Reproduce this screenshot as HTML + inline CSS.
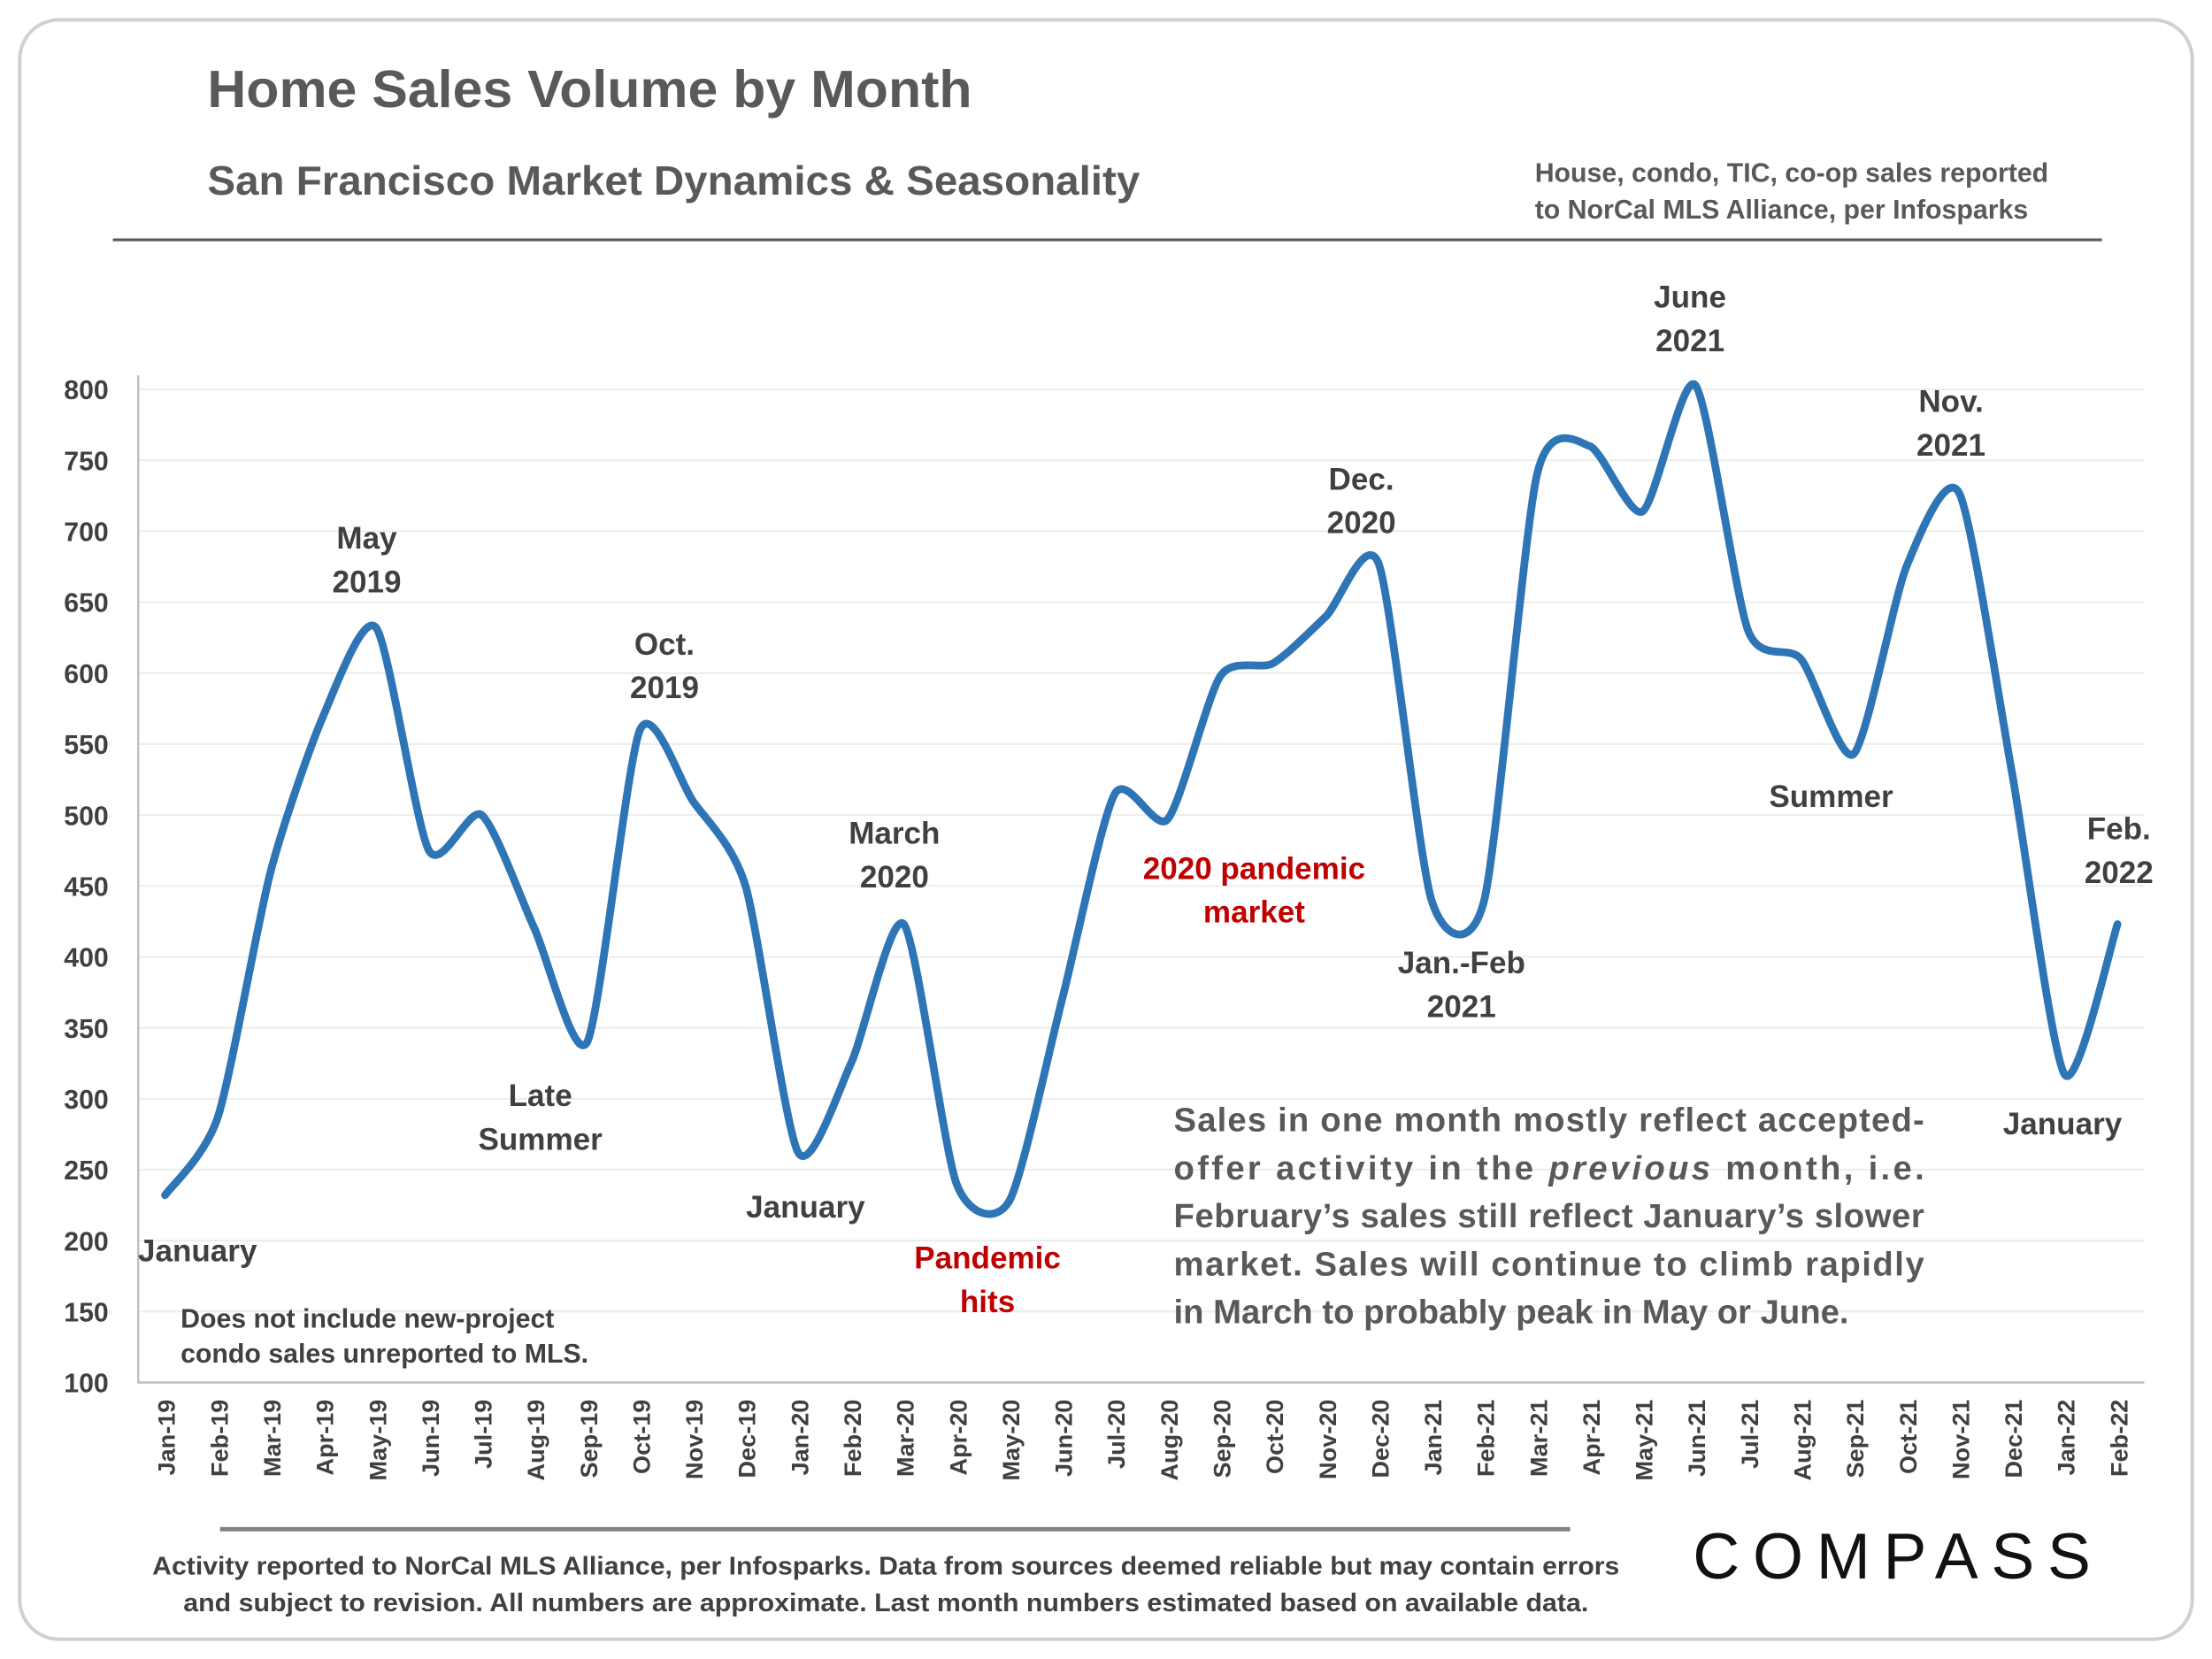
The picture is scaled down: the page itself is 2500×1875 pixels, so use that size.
<!DOCTYPE html>
<html><head><meta charset="utf-8"><style>
html,body{margin:0;padding:0;background:#fff}
svg{display:block}
text{font-family:"Liberation Sans",sans-serif;font-weight:bold}
</style></head><body>
<svg id="chart" width="2500" height="1875" viewBox="0 0 1568 1176" preserveAspectRatio="none" xmlns="http://www.w3.org/2000/svg">
<rect x="14" y="14" width="1540" height="1148" rx="28" fill="#fff" stroke="#d0d0d0" stroke-width="2.5"/>
<text x="147" y="76" font-size="37" fill="#595959" textLength="542" lengthAdjust="spacingAndGlyphs">Home Sales Volume by Month</text>
<text x="147" y="138" font-size="29" fill="#595959" textLength="661" lengthAdjust="spacingAndGlyphs">San Francisco Market Dynamics &amp; Seasonality</text>
<text font-size="19" fill="#595959"><tspan x="1088" y="129">House, condo, TIC, co-op sales reported</tspan><tspan x="1088" y="155">to NorCal MLS Alliance, per Infosparks</tspan></text>
<line x1="80" y1="170" x2="1490" y2="170" stroke="#595959" stroke-width="2"/>
<g id="grid"></g>
<g id="yticks"></g>
<g id="xticks"></g>
<path id="series" fill="none" stroke="#2e75b6" stroke-width="5.5" stroke-linejoin="round" stroke-linecap="round"/>
<g font-size="22" fill="#404040" text-anchor="middle">
<text x="140" y="894">January</text>
<text x="260" y="389">May</text><text x="260" y="420">2019</text>
<text x="383" y="784">Late</text><text x="383" y="815">Summer</text>
<text x="471" y="464">Oct.</text><text x="471" y="495">2019</text>
<text x="571" y="863">January</text>
<text x="634" y="598">March</text><text x="634" y="629">2020</text>
<text x="700" y="899" fill="#c00000">Pandemic</text><text x="700" y="930" fill="#c00000">hits</text>
<text x="889" y="623" fill="#c00000">2020 pandemic</text><text x="889" y="654" fill="#c00000">market</text>
<text x="965" y="347">Dec.</text><text x="965" y="378">2020</text>
<text x="1036" y="690">Jan.-Feb</text><text x="1036" y="721">2021</text>
<text x="1198" y="218">June</text><text x="1198" y="249">2021</text>
<text x="1298" y="572">Summer</text>
<text x="1383" y="292">Nov.</text><text x="1383" y="323">2021</text>
<text x="1462" y="804">January</text>
<text x="1502" y="595">Feb.</text><text x="1502" y="626">2022</text>
</g>
<text font-size="19" fill="#404040"><tspan x="128" y="941">Does not include new-project</tspan><tspan x="128" y="966">condo sales unreported to MLS.</tspan></text>
<text font-size="24" fill="#595959"><tspan x="832" y="802" textLength="532" lengthAdjust="spacing">Sales in one month mostly reflect accepted-</tspan><tspan x="832" y="836" textLength="532" lengthAdjust="spacing">offer activity in the <tspan font-style="italic">previous</tspan> month, i.e.</tspan><tspan x="832" y="870" textLength="532" lengthAdjust="spacing">February’s sales still reflect January’s slower</tspan><tspan x="832" y="904" textLength="532" lengthAdjust="spacing">market. Sales will continue to climb rapidly</tspan><tspan x="832" y="938">in March to probably peak in May or June.</tspan></text>
<line x1="156" y1="1084" x2="1113" y2="1084" stroke="#808080" stroke-width="3"/>
<text font-size="18" fill="#404040" text-anchor="middle"><tspan x="628" y="1116" textLength="1040" lengthAdjust="spacingAndGlyphs">Activity reported to NorCal MLS Alliance, per Infosparks. Data from sources deemed reliable but may contain errors</tspan><tspan x="628" y="1142" textLength="996" lengthAdjust="spacingAndGlyphs">and subject to revision. All numbers are approximate. Last month numbers estimated based on available data.</tspan></text>
<text x="1200" y="1119" font-size="46" fill="#111" style="font-weight:normal" textLength="282" lengthAdjust="spacing">COMPASS</text>
</svg>
<script>
const categories=["Jan-19","Feb-19","Mar-19","Apr-19","May-19","Jun-19","Jul-19","Aug-19","Sep-19","Oct-19","Nov-19","Dec-19","Jan-20","Feb-20","Mar-20","Apr-20","May-20","Jun-20","Jul-20","Aug-20","Sep-20","Oct-20","Nov-20","Dec-20","Jan-21","Feb-21","Mar-21","Apr-21","May-21","Jun-21","Jul-21","Aug-21","Sep-21","Oct-21","Nov-21","Dec-21","Jan-22","Feb-22"];
const sales=[232,287,460,570,632,475,500,420,340,560,510,450,262,325,423,240,228,370,515,497,598,607,640,677,440,440,740,760,714,803,630,610,543,675,727,530,317,423];
const yTicks=[100,150,200,250,300,350,400,450,500,550,600,650,700,750,800];
const NS="http://www.w3.org/2000/svg";
const X0=117,X1=1501,Y0=980,Y1=276,VMIN=100,VMAX=800;
function xs(i){return X0+(X1-X0)*i/(categories.length-1);}
function ys(v){return Y0-(v-VMIN)*(Y0-Y1)/(VMAX-VMIN);}
const grid=document.getElementById('grid'),yt=document.getElementById('yticks'),xt=document.getElementById('xticks');
yTicks.forEach(v=>{
  if(v>VMIN){const l=document.createElementNS(NS,'line');
  
  
  l.setAttribute('x1',98);l.setAttribute('x2',1520);l.setAttribute('y1',ys(v));l.setAttribute('y2',ys(v));
  l.setAttribute('stroke','#ececec');l.setAttribute('stroke-width','1.2');grid.appendChild(l);}
  const t=document.createElementNS(NS,'text');
  
  
  t.setAttribute('x',77);t.setAttribute('y',ys(v)+7);t.setAttribute('text-anchor','end');t.setAttribute('font-size','19');t.setAttribute('fill','#404040');
  t.textContent=v;yt.appendChild(t);
});
const ax=document.createElementNS(NS,'path');


ax.setAttribute('d',`M98 ${ys(VMAX)-10} V${Y0} H1520`);ax.setAttribute('stroke','#bfbfbf');ax.setAttribute('fill','none');ax.setAttribute('stroke-width','1.5');grid.appendChild(ax);
categories.forEach((c,i)=>{
  const t=document.createElementNS(NS,'text');
  
  
  const x=xs(i)+7,y=992;
  t.setAttribute('transform',`translate(${x},${y}) rotate(-90)`);t.setAttribute('text-anchor','end');t.setAttribute('font-size','17');t.setAttribute('fill','#404040');
  t.textContent=c;xt.appendChild(t);
});
const pts=sales.map((v,i)=>[xs(i),ys(v)]);
let d=`M${pts[0][0]},${pts[0][1]}`;
for(let i=0;i<pts.length-1;i++){
  const p0=pts[Math.max(0,i-1)],p1=pts[i],p2=pts[i+1],p3=pts[Math.min(pts.length-1,i+2)];
  const k=0.12;
  d+=` C${p1[0]+(p2[0]-p0[0])*k},${p1[1]+(p2[1]-p0[1])*k} ${p2[0]-(p3[0]-p1[0])*k},${p2[1]-(p3[1]-p1[1])*k} ${p2[0]},${p2[1]}`;
}
document.getElementById('series').setAttribute('d',d);
</script>
</body></html>
